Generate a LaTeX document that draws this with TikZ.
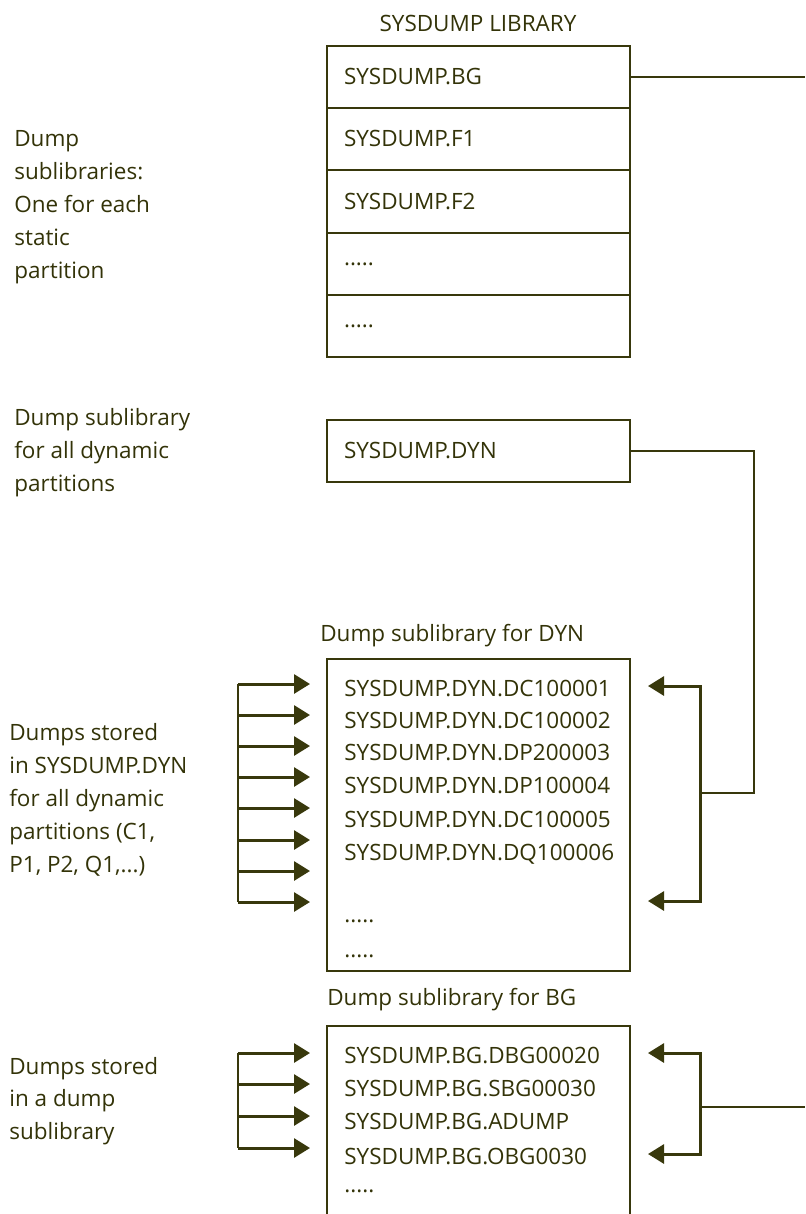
\documentclass[tikz,border=0pt]{standalone}
\usepackage{fontspec}
\setmainfont{Open Sans}
\usepackage{xcolor}
\usepackage{tikz}
\usetikzlibrary{calc,positioning,arrows.meta}
\definecolor{DumpOlive}{HTML}{38380C}
\definecolor{DumpText}{HTML}{333308}
\newcommand{\fivedots}{.....}

\tikzset{
  label text/.style={font=\fontsize{12.8}{18.7}\selectfont,text=DumpText,inner sep=0pt,align=left},
  librow/.style={draw=DumpOlive,line width=1.1pt,minimum width=6.06cm,minimum height=1.24cm,
    inner xsep=0.34cm,text width=5.38cm,align=left,font=\fontsize{12.8}{18.7}\selectfont,text=DumpText},
  entry/.style={font=\fontsize{12.8}{18.7}\selectfont,text=DumpText,inner sep=0pt,anchor=west},
  link/.style={draw=DumpOlive,line width=1.2pt},
  feed/.style={draw=DumpOlive,line width=1.7pt,-{Triangle[length=0.32cm,width=0.38cm]}},
}

\begin{document}
\begin{tikzpicture}[x=0.02cm,y=-0.02cm]
  \useasboundingbox[fill=white] (0,0) rectangle (805,1214);

  % SYSDUMP library
  \node[label text] (libtitle) at (478,23) {SYSDUMP LIBRARY};
  \node[librow] (bgrow) at (478.5,77) {SYSDUMP.BG};
  \node[librow] (f1row) at (478.5,139) {SYSDUMP.F1};
  \node[librow] (f2row) at (478.5,201.5) {SYSDUMP.F2};
  \node[librow] (morea) at (478.5,264) {\fivedots};
  \node[librow] (moreb) at (478.5,326) {\fivedots};
  \node[label text,anchor=west] (statictxt) at (14,207) {Dump\\sublibraries:\\One for each\\static\\partition};

  \coordinate (bgexit) at (805,77);
  \draw[link] (bgrow.east) -- (bgexit);

  % dynamic partitions
  \node[librow] (dynrow) at (478.5,451) {SYSDUMP.DYN};
  \node[label text,anchor=west] (dyntxt) at (14,453) {Dump sublibrary\\for all dynamic\\partitions};

  \node[label text,anchor=west] (dyntitle) at (320,636) {Dump sublibrary for DYN};
  \node[draw=DumpOlive,line width=1.1pt,minimum width=6.06cm,minimum height=6.24cm] (dynbox) at (478.5,815) {};
  \foreach \txt/\y [count=\i] in {SYSDUMP.DYN.DC100001/688,SYSDUMP.DYN.DC100002/720,
      SYSDUMP.DYN.DP200003/752,SYSDUMP.DYN.DP100004/785,SYSDUMP.DYN.DC100005/819,
      SYSDUMP.DYN.DQ100006/854,\fivedots/921,\fivedots/956}
    \node[entry] (dyn\i) at (344,\y) {\txt};

  \foreach \y [count=\i] in {684,715,746,777,808,840,871,902} {
    \coordinate (dl\i) at (238,\y);
    \coordinate (dt\i) at (310,\y);
    \draw[feed] (dl\i) -- (dt\i);
  }
  \draw[link,line width=1.7pt] (dl1) -- (dl8);
  \node[label text,anchor=west] (dumpstxt) at (9,800) {Dumps stored\\in SYSDUMP.DYN\\for all dynamic\\partitions (C1,\\P1, P2, Q1,...)};

  \coordinate (dynturn) at (754,793);
  \coordinate (dynbrk) at (700,793);
  \draw[link] (dynrow.east) -| (dynturn) -- (dynbrk);
  \coordinate (dbtop) at (700,686);
  \coordinate (dbbot) at (700,901);
  \coordinate (dbtipa) at (648,686);
  \coordinate (dbtipb) at (648,901);
  \draw[feed,{Triangle[length=0.32cm,width=0.38cm]}-{Triangle[length=0.32cm,width=0.38cm]}] (dbtipa) -- (dbtop) -- (dbbot) -- (dbtipb);

  % BG sublibrary
  \node[label text,anchor=west] (bgtitle) at (327,1000) {Dump sublibrary for BG};
  \node[draw=DumpOlive,line width=1.1pt,minimum width=6.06cm,minimum height=4.2cm] (bgbox) at (478.5,1131) {};
  \foreach \txt/\y [count=\i] in {SYSDUMP.BG.DBG00020/1055,SYSDUMP.BG.SBG00030/1088,
      SYSDUMP.BG.ADUMP/1122,SYSDUMP.BG.OBG0030/1156,\fivedots/1191}
    \node[entry] (bge\i) at (344,\y) {\txt};

  \foreach \y [count=\i] in {1053,1084,1116,1148} {
    \coordinate (bl\i) at (238,\y);
    \coordinate (bt\i) at (310,\y);
    \draw[feed] (bl\i) -- (bt\i);
  }
  \draw[link,line width=1.7pt] (bl1) -- (bl4);
  \node[label text,anchor=west] (bgdumpstxt) at (9,1101) {Dumps stored\\in a dump\\sublibrary};

  \coordinate (bbtop) at (700,1053);
  \coordinate (bbbot) at (700,1154);
  \coordinate (bbtipa) at (648,1053);
  \coordinate (bbtipb) at (648,1154);
  \coordinate (bbmid) at (700,1107);
  \coordinate (bbexit) at (805,1107);
  \draw[feed,{Triangle[length=0.32cm,width=0.38cm]}-{Triangle[length=0.32cm,width=0.38cm]}] (bbtipa) -- (bbtop) -- (bbbot) -- (bbtipb);
  \draw[link] (bbmid) -- (bbexit);
\end{tikzpicture}
\end{document}
